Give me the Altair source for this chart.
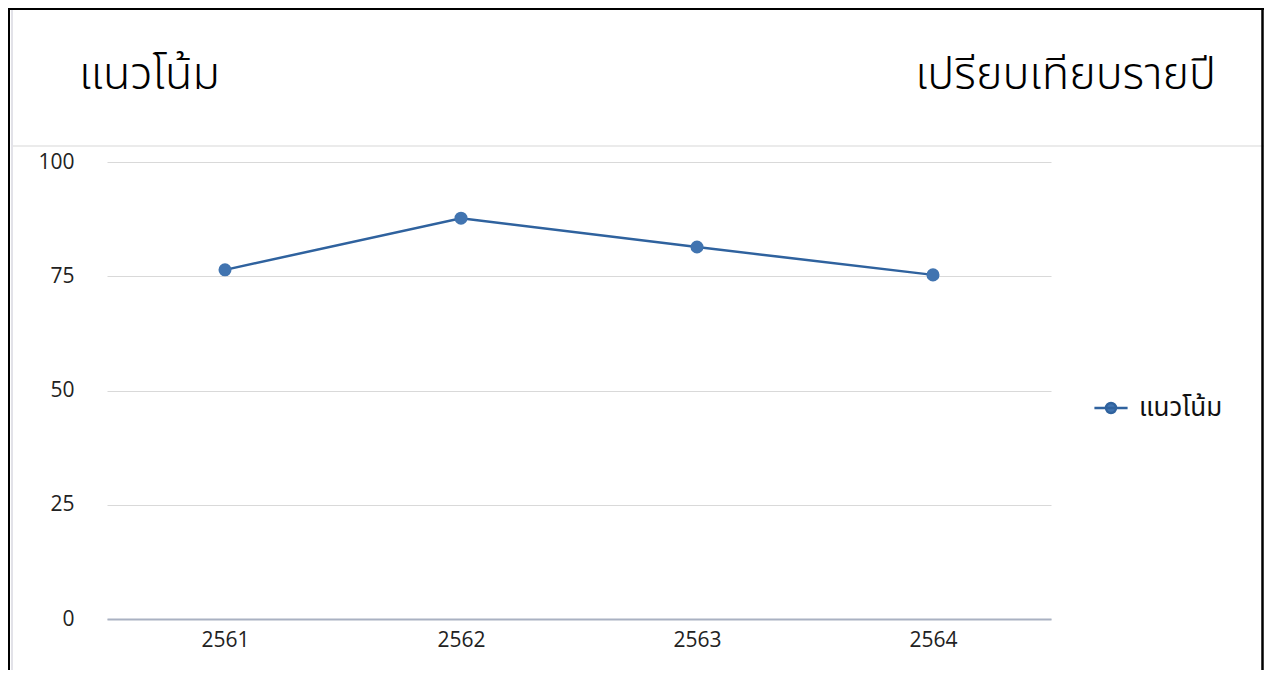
import altair as alt
import pandas as pd

years = ["2561", "2562", "2563", "2564"]
values = [76.4, 87.7, 81.4, 75.3]
series_name = "แนวโน้ม"
title_left = "แนวโน้ม"
title_right = "เปรียบเทียบรายปี"
y_ticks = [0, 25, 50, 75, 100]

line_color = "#2f629e"
point_color = "#4174b0"
font = "Open Sans"
thai_font = "Noto Sans Thai, Open Sans, sans-serif"

df = pd.DataFrame({"year": years, "value": values, "series": [series_name] * len(years)})
one = pd.DataFrame({"a": [0]})

W, H = 944, 457

base = alt.Chart(df)

line = base.mark_line(strokeWidth=2.5, color=line_color).encode(
    x=alt.X("year:O", scale=alt.Scale(type="point", padding=0.5),
            axis=alt.Axis(title=None, labelAngle=0, labelFont=font, labelFontSize=21,
                          labelColor="#222222", ticks=False, labelPadding=10,
                          domainColor="#a9b1c2", domainWidth=2, grid=False)),
    y=alt.Y("value:Q", scale=alt.Scale(domain=[0, 100]),
            axis=alt.Axis(title=None, values=y_ticks, labelFont=font, labelFontSize=21,
                          labelColor="#222222", ticks=False, domain=False, labelPadding=33,
                          gridColor="#d9d9d9", gridWidth=1.2)),
    color=alt.Color("series:N", scale=alt.Scale(range=[line_color]),
                    legend=alt.Legend(title=None, orient="none", legendX=986, legendY=228,
                                      symbolType="M-1,0L1,0M-0.3,0a0.3,0.3 0 1,0 0.6,0a0.3,0.3 0 1,0 -0.6,0",
                                      symbolSize=1100, symbolStrokeWidth=2.5,
                                      symbolFillColor=point_color, symbolStrokeColor=line_color,
                                      labelFont=thai_font, labelFontSize=26, labelFontWeight=400,
                                      labelColor="#111111", labelOffset=10)),
)

points = base.mark_circle(size=170, color=point_color, opacity=1).encode(
    x="year:O", y="value:Q"
)

fr = alt.Chart(one)
left_title = fr.mark_text(text=title_left, font=thai_font, fontSize=45, fontWeight=300,
                          align="left", baseline="middle", color="#000000").encode(
    x=alt.value(-28), y=alt.value(-87))
right_title = fr.mark_text(text=title_right, font=thai_font, fontSize=45, fontWeight=300,
                           align="right", baseline="middle", color="#000000").encode(
    x=alt.value(1109), y=alt.value(-87))
sep = fr.mark_rule(color="#d8d8d8", strokeWidth=1.2).encode(
    x=alt.value(-95), x2=alt.value(1157), y=alt.value(-16))
left_border = fr.mark_rule(color="#000000", strokeWidth=2).encode(
    x=alt.value(-98), y=alt.value(-154), y2=alt.value(H + 51))
inner_left = fr.mark_rule(color="#e2e2e8", strokeWidth=2).encode(
    x=alt.value(-95), y=alt.value(-152), y2=alt.value(H + 51))
top_border = fr.mark_rule(color="#000000", strokeWidth=2).encode(
    x=alt.value(-99), x2=alt.value(1157), y=alt.value(-153))
right_border = fr.mark_rule(color="#000000", strokeWidth=2.5).encode(
    x=alt.value(1155.5), y=alt.value(-154), y2=alt.value(H + 51))

chart = alt.layer(
    sep, left_border, inner_left, top_border, right_border,
    line, points, left_title, right_title
).properties(
    width=W, height=H,
    autosize=alt.AutoSizeParams(type="none"),
    padding={"left": 99, "top": 154, "right": 213, "bottom": 51},
).configure(background="white").configure_view(stroke=None)

chart.save("out.html", embed_options={"renderer": "svg", "actions": False})
